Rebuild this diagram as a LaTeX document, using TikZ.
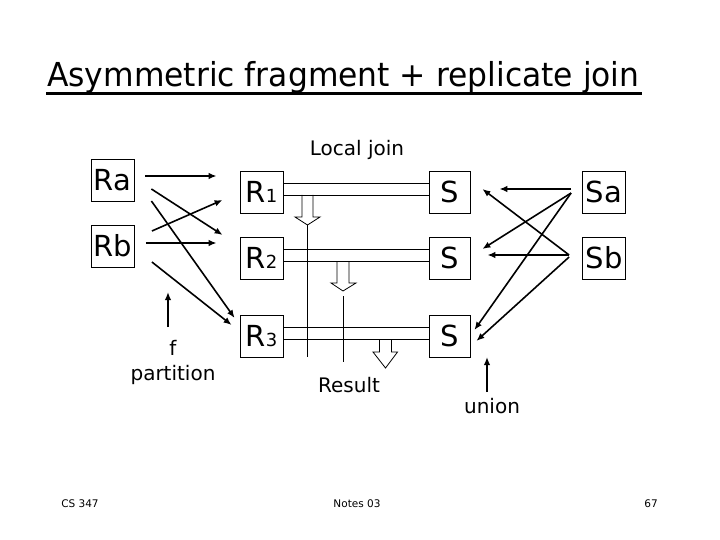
\documentclass[tikz,border=0pt]{standalone}
\usepackage{fontspec}
\setmainfont{DejaVu Sans}
\newfontfamily\titlefont[FakeStretch=0.95]{DejaVu Sans}
\usetikzlibrary{arrows.meta,calc}
\begin{document}
\begin{tikzpicture}[x=1pt,y=-1pt,
  box/.style={draw,line width=0.8pt,minimum width=43pt,minimum height=42pt,inner sep=0pt,font=\fontsize{29}{30}\selectfont},
  arr/.style={line width=1.6pt,-{Latex[length=8pt,width=6.5pt]}},
  thin/.style={line width=0.8pt},
  lbl/.style={font=\fontsize{20}{22}\selectfont,anchor=base,inner sep=0pt},
  foot/.style={font=\fontsize{10.5}{12}\selectfont,anchor=base,inner sep=0pt}]
\useasboundingbox (0,0) rectangle (720,540);
% title
\node[anchor=base west,inner sep=0pt,font=\titlefont\fontsize{33}{40}\selectfont] (title) at (47,87) {Asymmetric fragment + replicate join};
\draw[line width=3pt] (46,93.5) -- (642,93.5);
% boxes
\newcommand{\Rsub}[1]{R{\fontsize{18}{18}\selectfont #1}}
\node[box] (Ra) at (112.5,180) {Ra};
\node[box] (Rb) at (112.5,246) {Rb};
\node[box] (R1) at (261.5,192) {\Rsub{1}};
\node[box] (R2) at (261.5,258) {\Rsub{2}};
\node[box] (R3) at (261.5,336) {\Rsub{3}};
\node[box,minimum width=41pt] (S1) at (449.5,192) {S};
\node[box,minimum width=41pt] (S2) at (449.5,258) {S};
\node[box,minimum width=41pt] (S3) at (449.5,336) {S};
\node[box] (Sa) at (604,192) {Sa};
\node[box] (Sb) at (604,258) {Sb};
% double lines
\foreach \i in {1,2,3}{
  \draw[thin] ([yshift=9pt]R\i.east) -- ([yshift=9pt]S\i.west);
  \draw[thin] ([yshift=-3pt]R\i.east) -- ([yshift=-3pt]S\i.west);
}
% block arrows
\draw[thin] (302,195) -- (302,217) -- (295,217) -- (307.5,225) -- (320,217) -- (313,217) -- (313,195);
\draw[thin] (337,261) -- (337,283) -- (331,283) -- (343,291) -- (356,283) -- (349,283) -- (349,261);
\draw[thin] (379.5,339) -- (379.5,352) -- (373,352) -- (385.5,368) -- (397.5,352) -- (391.5,352) -- (391.5,339);
\draw[thin] (307.5,225) -- (307.5,357);
\draw[thin] (343,296) -- (343,362);
% left arrows
\draw[arr] ([shift={(11,-4)}]Ra.east) -- ([shift={(-23,-16)}]R1.west);
\draw[arr] ([shift={(17,9)}]Ra.east) -- ([shift={(-17,-23)}]R2.west);
\draw[arr] ([shift={(17,21)}]Ra.east) -- ([shift={(-5,-18)}]R3.west);
\draw[arr] ([shift={(17.5,-15)}]Rb.east) -- ([shift={(-17,8)}]R1.west);
\draw[arr] ([shift={(11.5,-3)}]Rb.east) -- ([shift={(-23,-15)}]R2.west);
\draw[arr] ([shift={(17.5,16)}]Rb.east) -- ([shift={(-8,-11)}]R3.west);
% right arrows
\draw[arr] ([shift={(-11,-3)}]Sa.west) -- ([shift={(29,-3)}]S1.east);
\draw[arr] ([shift={(-11,1)}]Sa.west) -- ([shift={(12,-9)}]S2.east);
\draw[arr] ([shift={(-11,1)}]Sa.west) -- ([shift={(4,-6)}]S3.east);
\draw[arr] ([shift={(-13,-3)}]Sb.west) -- ([shift={(17,-3)}]S2.east);
\draw[arr] ([shift={(-13,-3)}]Sb.west) -- ([shift={(12,-3)}]S1.east);
\draw[arr] ([shift={(-13,-1)}]Sb.west) -- ([shift={(6,5)}]S3.east);
% labels
\node[lbl] (lj) at (357,156) {Local join};
\node[lbl] (res) at (349,392) {Result};
\node[lbl] (f) at (173,355) {f};
\node[lbl] (part) at (173,380) {partition};
\node[lbl] (un) at (492,413) {union};
\coordinate (pa) at (168,292);
\coordinate (ua) at (487,357);
\draw[arr] (168,327) -- (pa);
\draw[arr] (487,392) -- (ua);
% footer
\node[foot] (cs) at (80,507) {CS 347};
\node[foot] (notes) at (357,507) {Notes 03};
\node[foot] (pg) at (651,507) {67};
\end{tikzpicture}
\end{document}
